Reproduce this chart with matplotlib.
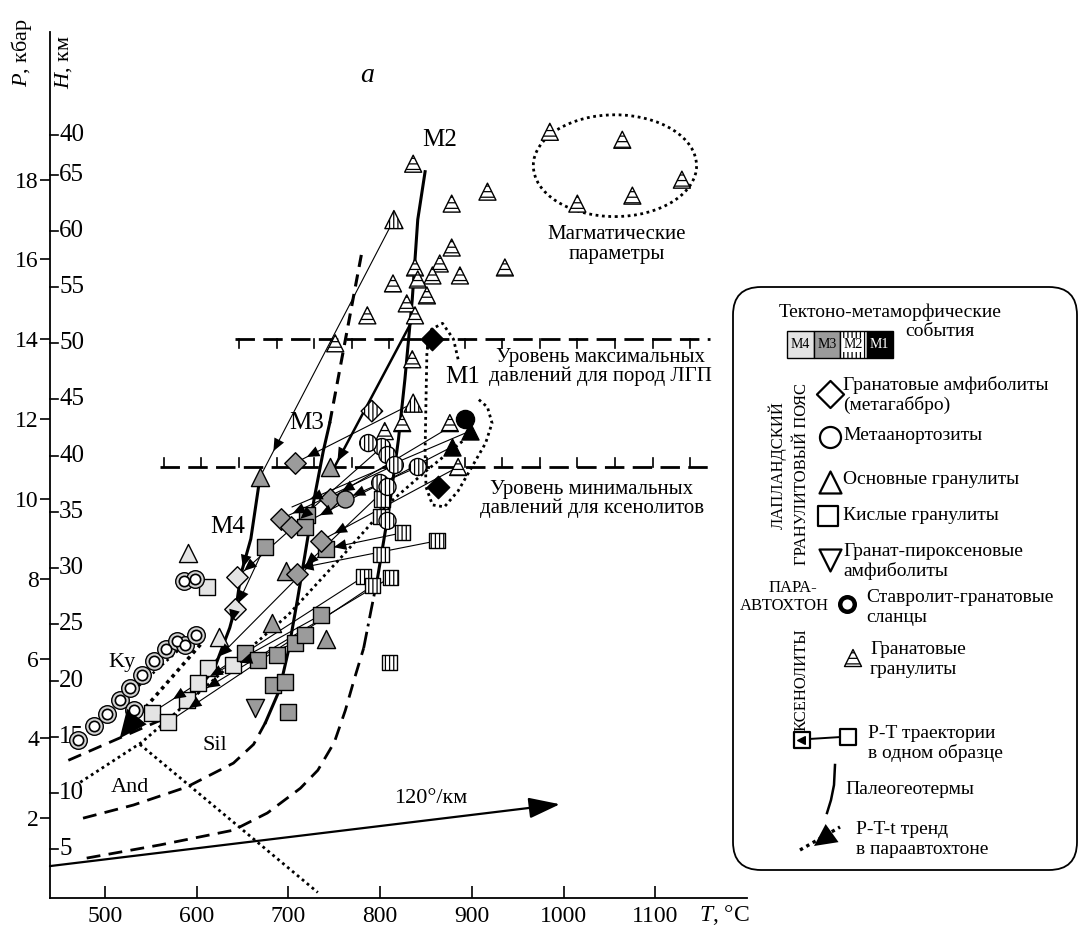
import numpy as np
import matplotlib
matplotlib.use("Agg")
import matplotlib.pyplot as plt
from matplotlib.patches import FancyBboxPatch, Rectangle, Ellipse

plt.rcParams['font.family'] = ['Liberation Serif', 'DejaVu Serif']
plt.rcParams['mathtext.fontset'] = 'custom'
plt.rcParams['mathtext.it'] = 'Liberation Serif:italic'
plt.rcParams['mathtext.rm'] = 'Liberation Serif'
plt.rcParams['hatch.linewidth'] = 0.9

# ================= AXES DATA =================
T_RANGE = (440, 1200)
P_RANGE = (0, 21.7)
T_ticks = [500, 600, 700, 800, 900, 1000, 1100]
P_ticks = [2, 4, 6, 8, 10, 12, 14, 16, 18]
km_depth = [5, 10, 15, 20, 25, 30, 35, 40, 45, 50, 55, 60, 65, 68.5]
km_text = ['5', '10', '15', '20', '25', '30', '35', '40', '45', '50', '55', '60', '65', '40']

def km_to_kbar(h):
    return 13.9 + (h - 50) / 3.55

# ================= MARKERS =================
# xenoliths - garnet granulites (striped triangles)
xen_T = [985, 1064, 1129, 1015, 1075, 836, 878, 917, 878, 865, 838, 857, 814, 887,
         936, 841, 851, 829, 838, 835, 824, 876, 805, 885, 786, 751]
xen_P = [19.2, 19.0, 18.0, 17.4, 17.6, 18.4, 17.4, 17.7, 16.3, 15.9, 15.8, 15.6, 15.4, 15.6,
         15.8, 15.5, 15.1, 14.9, 14.6, 13.5, 11.9, 11.9, 11.7, 10.8, 14.6, 13.9]

# M4 (light)
m4_sq_T = [612, 640, 601, 589, 551, 569, 611]
m4_sq_P = [5.76, 5.84, 5.39, 4.96, 4.64, 4.41, 7.79]
m4_tri_T = [590, 624]
m4_tri_P = [8.64, 6.55]
m4_dia_T = [644, 642]
m4_dia_P = [8.04, 7.23]

# M3 (grey)
m3_sq_T = [674, 720, 718, 741, 736, 653, 667, 687, 707, 683, 696, 700, 718]
m3_sq_P = [8.8, 9.6, 9.3, 8.75, 7.1, 6.14, 5.96, 6.09, 6.38, 5.34, 5.41, 4.66, 6.6]
m3_tri_T = [682, 697, 741, 669, 745]
m3_tri_P = [6.9, 8.2, 6.5, 10.55, 10.8]
m3_dia_T = [692, 703, 709, 745, 735, 707]
m3_dia_P = [9.5, 9.3, 8.13, 10.0, 8.95, 10.9]
m3_cir_T = [762]
m3_cir_P = [10.0]
m3_dtri_T = [664]
m3_dtri_P = [4.75]

# M2 (vertical hatching)
m2_sq_T = [802, 801, 824, 862, 801, 782, 792, 811, 810]
m2_sq_P = [10.0, 9.55, 9.15, 8.95, 8.6, 8.05, 7.83, 8.03, 5.9]
m2_cir_T = [800, 808, 808, 841, 802, 808, 816, 787]
m2_cir_P = [10.4, 10.3, 9.45, 10.8, 11.3, 11.1, 10.85, 11.4]
m2_tri_T = [815, 836]
m2_tri_P = [17.0, 12.4]
m2_dia_T = [791]
m2_dia_P = [12.2]

# M1 (black)
m1_dia_T = [857, 863]
m1_dia_P = [14.0, 10.3]
m1_cir_T = [893]
m1_cir_P = [12.0]
m1_tri_T = [898, 878]
m1_tri_P = [11.7, 11.3]

# paraautochthon - staurolite-garnet schists
par_T = [471, 488, 502, 516, 527, 540, 553, 567, 578, 587, 599, 532, 586, 598]
par_P = [3.95, 4.3, 4.6, 4.95, 5.25, 5.6, 5.95, 6.25, 6.45, 6.35, 6.6, 4.72, 7.95, 8.0]

# P-T trajectories in one sample (start -> end)
traj_T0 = [815, 836, 876, 898, 878, 885, 841, 816, 802, 808, 862, 824, 811, 792, 782, 736, 720, 741, 707, 674]
traj_P0 = [17.0, 12.4, 11.8, 11.7, 11.3, 10.8, 10.8, 10.85, 11.3, 10.3, 8.95, 9.15, 8.03, 7.83, 8.05, 7.1, 9.6, 8.75, 6.38, 8.8]
traj_T1 = [669, 707, 745, 704, 718, 735, 762, 692, 703, 709, 697, 741, 589, 569, 551, 601, 644, 612, 640, 642]
traj_P1 = [10.55, 10.9, 10.0, 9.8, 9.4, 8.95, 10.0, 9.5, 9.3, 8.13, 8.2, 8.75, 4.96, 4.41, 4.64, 5.39, 8.04, 5.76, 5.84, 7.23]
thick_T = [838, 749]
thick_P = [14.6, 10.75]

# ================= LINES =================
m4_geo_T = [607, 619, 636, 644, 648, 659, 669]
m4_geo_P = [5.4, 5.74, 6.77, 7.45, 8.1, 9.0, 10.55]
m3_geo_T = [675, 690, 700, 710, 718, 728, 738, 745]
m3_geo_P = [4.4, 5.2, 6.2, 7.5, 8.6, 10.0, 11.2, 11.9]
m3_dash_T = [745, 781]
m3_dash_P = [11.9, 16.3]
m2_geo_T = [797, 810, 820, 827, 835, 841, 849]
m2_geo_P = [8.0, 9.8, 11.5, 13.0, 15.0, 17.0, 18.2]
m2_dd_T = [782, 790, 797]
m2_dd_P = [6.26, 7.2, 8.0]
sil_low_T = [480, 560, 640, 677, 713, 732, 750, 762, 772, 782]
sil_low_P = [1.0, 1.33, 1.7, 2.13, 2.75, 3.2, 3.9, 4.7, 5.5, 6.26]
sil_up_T = [476, 531, 589, 640, 662, 675]
sil_up_P = [2.0, 2.33, 2.78, 3.38, 3.85, 4.4]
ky_and_T = [460, 560]
ky_and_P = [3.45, 4.45]
long_dot_T = [473, 540, 620, 700, 760, 810, 850, 898]
long_dot_P = [2.9, 3.9, 5.5, 7.1, 8.6, 9.9, 10.7, 11.6]
and_sil_T = [538, 732]
and_sil_P = [3.85, 0.14]
par_line_T = [471, 599]
par_line_P = [3.95, 6.6]
ptt_T = [604, 528]
ptt_P = [6.35, 4.35]
grad_T = [440, 996]
grad_P = [0.8, 2.35]
lvl_max_T = [642, 1160]
lvl_max_P = 14.0
lvl_min_T = [560, 1158]
lvl_min_P = 10.8
m1_T = [885, 880, 868, 856, 851, 850, 849, 850, 857, 870, 885, 900, 915, 922, 917, 907]
m1_P = [13.5, 14.0, 14.4, 14.25, 13.7, 12.5, 11.2, 10.3, 9.85, 9.8, 10.2, 10.8, 11.4, 11.9, 12.3, 12.5]

LIGHT = '#e4e4e4'
GREY = '#9b9b9b'

# ================= FIGURE =================
fig = plt.figure(figsize=(10.81, 9.36), dpi=100)
ax = fig.add_axes([50 / 1081, 38 / 936, 697 / 1081, 866 / 936])
ax.set_xlim(*T_RANGE)
ax.set_ylim(*P_RANGE)
for s in ['top', 'right']:
    ax.spines[s].set_visible(False)
ax.spines['left'].set_linewidth(1.3)
ax.spines['bottom'].set_linewidth(1.3)
ax.set_xticks(T_ticks)
ax.set_xticklabels([str(t) for t in T_ticks])
ax.set_yticks(P_ticks)
ax.set_yticklabels([str(p) for p in P_ticks])
ax.tick_params(axis='x', direction='in', length=9, width=1.2, labelsize=17, pad=6)
ax.tick_params(axis='y', direction='out', length=7, width=1.2, labelsize=17, pad=1)

# km scale
yt = ax.get_yaxis_transform()
for h, lab in zip(km_depth, km_text):
    p = km_to_kbar(h)
    ax.plot([0, 0.012], [p, p], transform=yt, color='k', lw=1.2, clip_on=False)
    ax.text(0.013, p, lab, transform=yt, ha='left', va='center', fontsize=18)

# level lines with small ticks
def level_line(t, p, up):
    ax.plot(t, [p, p], color='k', lw=2, ls=(0, (7, 3)), zorder=3)
    d = 0.22 if up else -0.22
    for tt in np.arange(t[0] + 4, t[1], 41):
        ax.plot([tt, tt], [p, p + d], color='k', lw=1.2, zorder=3)

level_line(lvl_max_T, lvl_max_P, False)
level_line(lvl_min_T, lvl_min_P, True)

# geotherms and boundaries
ax.plot(m4_geo_T, m4_geo_P, color='k', lw=2.2, zorder=3)
ax.plot(m3_geo_T, m3_geo_P, color='k', lw=2.2, zorder=3)
ax.plot(m3_dash_T, m3_dash_P, color='k', lw=2.2, ls=(0, (4, 2.5)), zorder=3)
ax.plot(m2_geo_T, m2_geo_P, color='k', lw=2.2, zorder=3)
ax.plot(m2_dd_T, m2_dd_P, color='k', lw=2, ls=(0, (6, 2, 1, 2)), zorder=3)
ax.plot(sil_low_T, sil_low_P, color='k', lw=2, ls=(0, (5, 3)), zorder=3)
ax.plot(sil_up_T, sil_up_P, color='k', lw=2, ls=(0, (5, 3)), zorder=3)
ax.plot(ky_and_T, ky_and_P, color='k', lw=2, ls=(0, (5, 3)), zorder=3)
ax.plot(long_dot_T, long_dot_P, color='k', lw=2, ls=(0, (1, 1.3)), zorder=3)
ax.plot(and_sil_T, and_sil_P, color='k', lw=2, ls=(0, (1, 1.3)), zorder=3)
ax.plot(par_line_T, par_line_P, color='k', lw=1.8, ls=(0, (1, 1.5)), zorder=3)
ax.plot(ptt_T, ptt_P, color='k', lw=2.6, ls=(0, (1, 1.2)), zorder=3)
ax.annotate('', xy=(ptt_T[1] - 12, ptt_P[1] - 0.35), xytext=(ptt_T[1], ptt_P[1]),
            arrowprops=dict(arrowstyle='-|>,head_length=1.0,head_width=0.45', color='k',
                            lw=0, shrinkA=0, shrinkB=0, mutation_scale=20), zorder=6)
ax.plot(m1_T, m1_P, color='k', lw=2, ls=(0, (1, 1.3)), zorder=3)
ax.add_patch(Ellipse((1056, 18.35), 178, 2.55, fill=False, ls=(0, (1, 1.3)), lw=2, zorder=3))

# 120 deg/km
ax.annotate('', xy=(grad_T[1], grad_P[1]), xytext=(grad_T[0], grad_P[0]),
            arrowprops=dict(arrowstyle='-|>,head_length=1.2,head_width=0.4', color='k',
                            lw=1.6, shrinkA=0, shrinkB=0, mutation_scale=16), zorder=4)

# trajectories
def head(t0, p0, t1, p1, frac=0.9, ms=13):
    tb = t0 + (t1 - t0) * (frac - 0.05)
    pb = p0 + (p1 - p0) * (frac - 0.05)
    tm = t0 + (t1 - t0) * frac
    pm = p0 + (p1 - p0) * frac
    ax.annotate('', xy=(tm, pm), xytext=(tb, pb),
                arrowprops=dict(arrowstyle='-|>,head_length=0.7,head_width=0.3', color='k',
                                lw=0, shrinkA=0, shrinkB=0, mutation_scale=ms), zorder=7)

for t0, p0, t1, p1 in zip(traj_T0, traj_P0, traj_T1, traj_P1):
    ax.plot([t0, t1], [p0, p1], color='k', lw=0.8, zorder=2)
    head(t0, p0, t1, p1)
ax.plot(thick_T, thick_P, color='k', lw=1.8, zorder=3)
head(thick_T[0], thick_P[0], thick_T[1], thick_P[1], 0.95, 14)
for i in range(len(m4_geo_T) - 1):
    if i in (2, 4):
        head(m4_geo_T[i + 1], m4_geo_P[i + 1], m4_geo_T[i], m4_geo_P[i], 0.8, 13)

# markers
def pts(T, P, marker, s, fc, hatch=None, lw=1.0, z=5):
    ax.scatter(T, P, marker=marker, s=s, facecolor=fc, edgecolor='k', linewidths=lw,
               hatch=hatch, zorder=z)

pts(xen_T, xen_P, '^', 150, 'white', '---')
pts(m4_sq_T, m4_sq_P, 's', 120, LIGHT)
pts(m4_tri_T, m4_tri_P, '^', 170, LIGHT)
pts(m4_dia_T, m4_dia_P, 'D', 120, LIGHT)
pts(m3_sq_T, m3_sq_P, 's', 120, GREY)
pts(m3_tri_T, m3_tri_P, '^', 170, GREY)
pts(m3_dia_T, m3_dia_P, 'D', 120, GREY)
pts(m3_cir_T, m3_cir_P, 'o', 150, GREY)
pts(m3_dtri_T, m3_dtri_P, 'v', 170, GREY)
pts(m2_sq_T, m2_sq_P, 's', 120, 'white', '||||')
pts(m2_cir_T, m2_cir_P, 'o', 150, 'white', '||||')
pts(m2_tri_T, m2_tri_P, '^', 170, 'white', '||||')
pts(m2_dia_T, m2_dia_P, 'D', 120, 'white', '||||')
pts(m1_dia_T, m1_dia_P, 'D', 130, 'k')
pts(m1_cir_T, m1_cir_P, 'o', 170, 'k')
pts(m1_tri_T, m1_tri_P, '^', 150, 'k')
pts(par_T, par_P, 'o', 160, '#d2d2d2', lw=1.0)
pts(par_T, par_P, 'o', 55, 'white', lw=1.2, z=6)

# labels in plot
txt = dict(ha='center', va='center', fontsize=16)
ax.text(634, 9.3, 'M4', fontsize=18, ha='center', va='center')
ax.text(720, 11.9, 'M3', fontsize=18, ha='center', va='center')
ax.text(865, 19.0, 'M2', fontsize=18, ha='center', va='center')
ax.text(890, 13.05, 'M1', fontsize=18, ha='center', va='center')
ax.text(786, 20.6, r'$a$', ha='center', va='center', fontsize=20)
ax.text(519, 5.9, 'Ky', **txt)
ax.text(620, 3.83, 'Sil', **txt)
ax.text(527, 2.78, 'And', **txt)
ax.text(855, 2.5, '120°/км', **txt)
ax.text(1040, 13.3, 'Уровень максимальных\nдавлений для пород ЛГП', ha='center', va='center',
        fontsize=15, linespacing=1.0)
ax.text(1031, 10.0, 'Уровень минимальных\nдавлений для ксенолитов', ha='center', va='center',
        fontsize=15, linespacing=1.0)
ax.text(1058, 16.37, 'Магматические\nпараметры', ha='center', va='center', fontsize=15,
        linespacing=1.05)

# ================= OVERLAY (pixel coords) =================
ox = fig.add_axes([0, 0, 1, 1])
ox.set_xlim(0, 1081)
ox.set_ylim(936, 0)
ox.axis('off')
ox.patch.set_visible(False)

ox.text(22, 52, r'$P$, кбар', rotation=90, ha='center', va='center', fontsize=16)
ox.text(64, 62, r'$H$, км', rotation=90, ha='center', va='center', fontsize=16)
ox.text(724, 915, r'$T$, °C', ha='center', va='center', fontsize=17)

# legend box
ox.add_patch(FancyBboxPatch((733, 287), 344, 583, boxstyle='round,pad=0,rounding_size=28',
                            fc='none', ec='k', lw=1.3))
lf = 14
ox.text(890, 312, 'Тектоно-метаморфические', ha='center', va='center', fontsize=lf)
ox.text(940, 332, 'события', ha='center', va='center', fontsize=lf)
ev_names = ['M4', 'M3', 'M2', 'M1']
ev_fc = [LIGHT, GREY, 'white', 'k']
for i, (nm, fc) in enumerate(zip(ev_names, ev_fc)):
    x0 = 787 + i * 26.5
    ox.add_patch(Rectangle((x0, 331), 26.5, 27, fc=fc, ec='k', lw=1,
                           hatch='||||' if nm == 'M2' else None))
    ox.text(x0 + 13.2, 345, nm, ha='center', va='center', fontsize=10,
            color='white' if nm == 'M1' else 'k',
            bbox=dict(fc='white', ec='none', pad=0.3) if nm == 'M2' else None)

ox.text(778, 465, 'ЛАПЛАНДСКИЙ', rotation=90, ha='center', va='center', fontsize=12)
ox.text(802, 474, 'ГРАНУЛИТОВЫЙ ПОЯС', rotation=90, ha='center', va='center', fontsize=12)
ox.text(793, 588, 'ПАРА-', ha='center', va='center', fontsize=12)
ox.text(784, 606, 'АВТОХТОН', ha='center', va='center', fontsize=12)
ox.text(802, 680, 'КСЕНОЛИТЫ', rotation=90, ha='center', va='center', fontsize=12)

ox.scatter([830], [394], marker='D', s=190, fc='white', ec='k', lw=1.6)
ox.scatter([830], [437], marker='o', s=230, fc='white', ec='k', lw=1.6)
ox.scatter([830], [482], marker='^', s=250, fc='white', ec='k', lw=1.6)
ox.scatter([828], [516], marker='s', s=190, fc='white', ec='k', lw=1.6)
ox.scatter([830], [560], marker='v', s=250, fc='white', ec='k', lw=1.6)
ox.scatter([847], [604], marker='o', s=110, fc='white', ec='k', lw=3.2)
ox.scatter([853], [658], marker='^', s=150, fc='white', ec='k', lw=1.0, hatch='---')

ox.text(843, 385, 'Гранатовые амфиболиты', va='center', fontsize=lf)
ox.text(843, 405, '(метагаббро)', va='center', fontsize=lf)
ox.text(843, 436, 'Метаанортозиты', va='center', fontsize=lf)
ox.text(843, 480, 'Основные гранулиты', va='center', fontsize=lf)
ox.text(843, 516, 'Кислые гранулиты', va='center', fontsize=lf)
ox.text(843, 551, 'Гранат-пироксеновые', va='center', fontsize=lf)
ox.text(843, 571, 'амфиболиты', va='center', fontsize=lf)
ox.text(866, 597, 'Ставролит-гранатовые', va='center', fontsize=lf)
ox.text(866, 617, 'сланцы', va='center', fontsize=lf)
ox.text(870, 649, 'Гранатовые', va='center', fontsize=lf)
ox.text(870, 669, 'гранулиты', va='center', fontsize=lf)
ox.text(868, 733, 'P-T траектории', va='center', fontsize=lf)
ox.text(868, 753, 'в одном образце', va='center', fontsize=lf)
ox.text(845, 789, 'Палеогеотермы', va='center', fontsize=lf)
ox.text(856, 830, 'P-T-t тренд', va='center', fontsize=lf)
ox.text(856, 850, 'в параавтохтоне', va='center', fontsize=lf)

# legend symbols
ox.plot([809, 841], [739, 737], color='k', lw=1.4)
ox.scatter([802], [740], marker='s', s=120, fc='white', ec='k', lw=1.6, zorder=5)
ox.scatter([801], [740], marker='<', s=30, fc='k', ec='k', zorder=6)
ox.scatter([848], [737], marker='s', s=120, fc='white', ec='k', lw=1.6, zorder=5)
ox.plot([835, 834, 831, 827], [765, 785, 800, 813], color='k', lw=1.8)
ox.plot([800, 840], [850, 827], color='k', lw=2.4, ls=(0, (1, 1.2)))
ox.annotate('', xy=(814, 846), xytext=(828, 836),
            arrowprops=dict(arrowstyle='-|>,head_length=1.0,head_width=0.5', color='k',
                            lw=0, shrinkA=0, shrinkB=0, mutation_scale=16))

fig.savefig('out.png', dpi=100)
